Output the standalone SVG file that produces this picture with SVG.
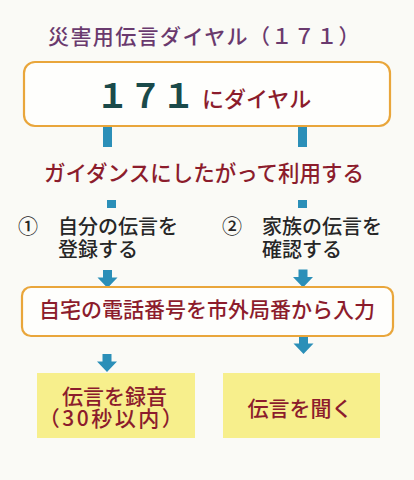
<svg xmlns="http://www.w3.org/2000/svg" width="414" height="480" viewBox="0 0 414 480">
<style>
text{font-family:"Noto Sans CJK JP","Noto Sans CJK SC",sans-serif;font-weight:500}
.ttl{fill:#6a3a6e;font-size:21px}
.red{fill:#8c1c2c;font-size:21px}
.dark{fill:#262626;font-size:20px}
.box{fill:#fefefc;stroke:#e9a63b;stroke-width:2.2}
.yel{fill:#f7ef8c}
.blue{fill:#2b8fb8}
</style>
<defs>
<path id="arr" d="M-4.5,0H4.5V7.5H10L0,18L-10,7.5H-4.5Z"/>
</defs>
<rect width="414" height="480" fill="#fafaf6"/>
<g id="title"><text class="ttl" x="48" y="43.5" letter-spacing="1.4">災害用伝言ダイヤル（１７１）</text></g>
<g id="connectors" class="blue">
<rect x="103" y="126" width="9" height="21"/>
<rect x="298" y="126" width="9" height="21"/>
<rect x="107" y="200" width="9" height="8"/>
<rect x="298" y="200" width="9" height="8"/>
<use href="#arr" x="107.5" y="270"/>
<use href="#arr" x="303" y="269.5"/>
<use href="#arr" x="303.5" y="336"/>
<use href="#arr" x="107" y="354"/>
</g>
<g id="dial">
<rect class="box" x="24" y="62" width="366" height="64" rx="11"/>
<text x="96" y="108" font-size="33" fill="#1a4a4a" style="font-weight:bold">１７１</text>
<text class="red" x="202" y="106.5" style="font-size:22px">にダイヤル</text>
</g>
<g id="guidance"><text class="red" x="204" y="180.5" text-anchor="middle" style="font-size:21.5px">ガイダンスにしたがって利用する</text></g>
<g id="opt1">
<text class="dark" x="18" y="233.5">①　自分の伝言を<tspan x="58" dy="23">登録する</tspan></text>
</g>
<g id="opt2">
<text class="dark" x="222" y="233.5">②　家族の伝言を<tspan x="262" dy="23">確認する</tspan></text>
</g>
<g id="input">
<rect class="box" x="22" y="287" width="371" height="49" rx="9"/>
<text class="red" x="207" y="316.5" text-anchor="middle">自宅の電話番号を市外局番から入力</text>
</g>
<g id="record">
<rect class="yel" x="37" y="373" width="158" height="65"/>
<text class="red" x="114.5" y="403.5" text-anchor="middle">伝言を録音<tspan x="112" dy="22" letter-spacing="2.5">（30秒以内）</tspan></text>
</g>
<g id="listen">
<rect class="yel" x="223" y="373" width="157" height="65"/>
<text class="red" x="300" y="415.5" text-anchor="middle">伝言を聞く</text>
</g>
</svg>
